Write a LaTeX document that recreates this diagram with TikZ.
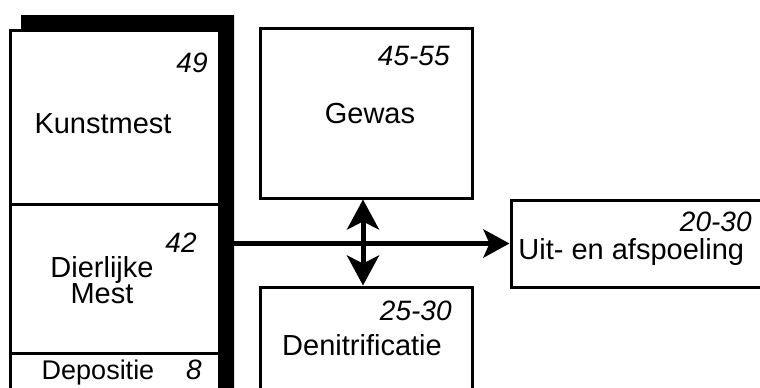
\documentclass[tikz,border=0pt]{standalone}
\usepackage{fontspec}
\setmainfont{Liberation Sans}
\usetikzlibrary{arrows.meta,positioning,fit}

\begin{document}
\begin{tikzpicture}[
    x=0.5pt, y=-0.5pt,
    box/.style={draw, line width=1.5pt, inner sep=0pt},
    lbl/.style={inner sep=0pt, anchor=base, align=center, font=\fontsize{14.5}{13}\selectfont},
    num/.style={inner sep=0pt, anchor=base east, font=\fontsize{14}{16}\selectfont\itshape},
    arr/.style={-{Stealth[length=13pt, width=14pt, inset=3pt]}, line width=2.5pt},
    dblarr/.style={{Stealth[length=15pt, width=16pt, inset=4pt]}-{Stealth[length=15pt, width=16pt, inset=4pt]}, line width=2.5pt},
]
    \useasboundingbox (0,0) rectangle (760,387);

    % Shadow of the source column
    \fill (21,15) -- (234,15) -- (234,392) -- (219,392) -- (219,30) -- (21,30) -- cycle;
    \coordinate (barE) at (234,0);

    % Sources
    \node[box, fit={(10,30) (219,204)}] (kunst) {};
    \node[box, fit={(10,204) (219,353)}] (dier) {};
    \node[box, fit={(10,353) (219,400)}] (depo) {};

    % Sinks
    \node[box, fit={(260,28) (472,198)}] (gewas) {};
    \node[box, fit={(260,287) (472,400)}] (deni) {};
    \node[box, fit={(511,200) (775,287)}] (uit) {};

    % Labels
    \node[num] (n49) at (208,72) {49};
    \node[lbl] (kunstlbl) at (103,133) {Kunstmest};
    \node[num] (n42) at (197,252) {42};
    \node[lbl] (dierlbl) at (102,303) {Dierlijke\\Mest};
    \node[lbl, font=\fontsize{13.5}{16}\selectfont] (depolbl) at (98,379) {Depositie};
    \node[num] (n8) at (202,379) {8};
    \node[num] (n4555) at (450,65) {45-55};
    \node[lbl] (gewaslbl) at (370,123) {Gewas};
    \node[num] (n2530) at (452,320) {25-30};
    \node[lbl] (denilbl) at (362,355) {Denitrificatie};
    \node[num] (n2030) at (752,231) {20-30};
    \node[lbl, anchor=base west] (uitlbl) at (518,259) {Uit- en afspoeling};

    % Arrows
    \draw[arr] (barE |- uit.west) -- (uit.west);
    \draw[dblarr] ([xshift=-1.5pt]gewas.south) -- ([xshift=-1.5pt]deni.north);
\end{tikzpicture}
\end{document}
